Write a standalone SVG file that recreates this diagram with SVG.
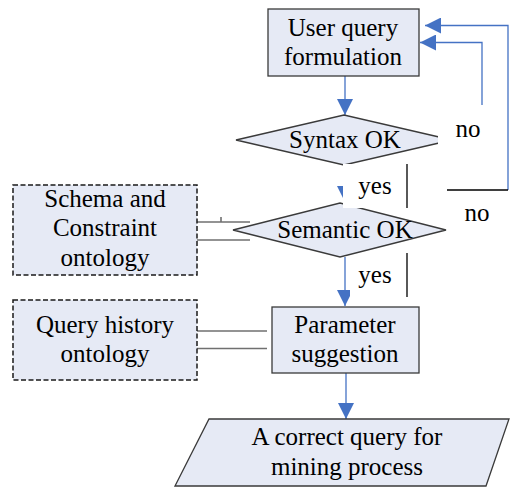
<svg xmlns="http://www.w3.org/2000/svg" width="510" height="487" viewBox="0 0 510 487">
<defs>
<style>
.n{fill:#E6EAF5;stroke:#3a3a3a;stroke-width:1.3}
.d{fill:#E6EAF5;stroke:#1a1a1a;stroke-width:1.5;stroke-dasharray:5,2.5}
.t{font-family:'Liberation Serif','Times New Roman',serif;font-size:25px;fill:#000;text-anchor:middle}
.b{fill:none;stroke:#4472C4;stroke-width:1.3}
.g{fill:none;stroke:#707070;stroke-width:1.6}
.k{fill:none;stroke:#000;stroke-width:1.3}
.w{fill:#fff;stroke:none}
</style>
<marker id="ah" viewBox="0 0 10 10" refX="10" refY="5" markerWidth="16" markerHeight="16" markerUnits="userSpaceOnUse" orient="auto">
<path d="M0,0 L10,5 L0,10 z" fill="#4472C4"/>
</marker>
</defs>
<g id="connectors">
<path class="b" d="M345,76 V115" marker-end="url(#ah)"/>
<path class="b" d="M345,165 V202" marker-end="url(#ah)"/>
<path class="b" d="M345,257 V306" marker-end="url(#ah)"/>
<path class="b" d="M346,373 V419" marker-end="url(#ah)"/>
<path class="b" d="M482,105 V42.5 H420" marker-end="url(#ah)"/>
<path class="b" d="M508,190 V25.5 H425" marker-end="url(#ah)"/>
<path class="g" d="M197,222 H250 M197,240 H250 M221,217 V222"/>
<path class="g" d="M197,331 H267 M197,348.5 H267"/>
</g>
<g id="user-query">
<rect class="n" x="268" y="9" width="151" height="67"/>
<text class="t" x="343" y="36">User query</text>
<text class="t" x="343" y="65">formulation</text>
</g>
<g id="syntax-ok">
<polygon class="n" points="236,140 344,115 452,140 344,165"/>
</g>
<g id="semantic-ok">
<polygon class="n" points="233,230 340,203 446,230 340,257"/>
</g>
<g id="labels-bg">
<rect class="w" x="343" y="164" width="63" height="44"/>
<rect class="w" x="438" y="105" width="62" height="58"/>
<rect class="w" x="447" y="191" width="60" height="62"/>
<rect class="w" x="350" y="258" width="56" height="40"/>
<path class="k" d="M407,164 V208 M407,253 V297 M447,190 H508"/>
</g>
<text class="t" x="345" y="148">Syntax OK</text>
<text class="t" x="345" y="238">Semantic OK</text>
<text class="t" x="375" y="194">yes</text>
<text class="t" x="375" y="283">yes</text>
<text class="t" x="468" y="137">no</text>
<text class="t" x="477" y="221">no</text>
<g id="schema-ontology">
<rect class="d" x="13" y="185" width="184" height="90"/>
<text class="t" x="105" y="207">Schema and</text>
<text class="t" x="105" y="236">Constraint</text>
<text class="t" x="105" y="266">ontology</text>
</g>
<g id="history-ontology">
<rect class="d" x="13" y="300" width="184" height="80"/>
<text class="t" x="105" y="333">Query history</text>
<text class="t" x="105" y="362">ontology</text>
</g>
<g id="parameter-suggestion">
<rect class="n" x="272" y="307" width="147" height="66"/>
<text class="t" x="345" y="333">Parameter</text>
<text class="t" x="345" y="362">suggestion</text>
</g>
<g id="correct-query">
<polygon class="n" points="209,419 509,419 486,486 175,486"/>
<text class="t" x="347" y="445">A correct query for</text>
<text class="t" x="347" y="475">mining process</text>
</g>
</svg>
